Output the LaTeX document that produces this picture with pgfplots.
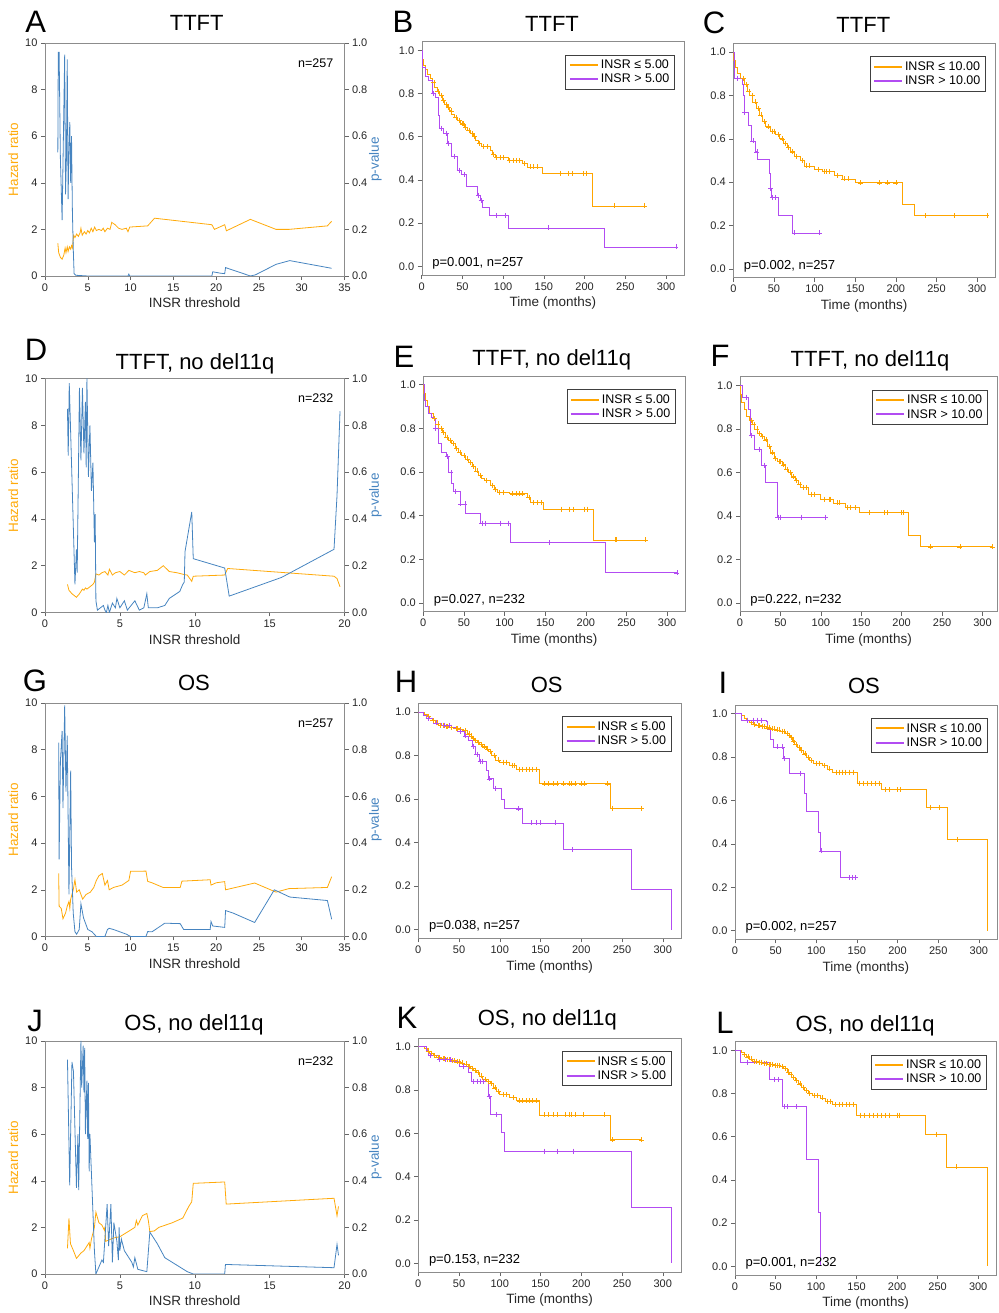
\documentclass[border=0pt]{standalone}
\usepackage{fontspec}
\setmainfont{Liberation Sans}
\usepackage{pgfplots}
\pgfplotsset{compat=1.18}
\definecolor{hrorange}{RGB}{255,170,10}
\definecolor{pblue}{RGB}{70,132,192}
\definecolor{kmorange}{RGB}{255,165,0}
\definecolor{kmpurple}{RGB}{165,45,240}

\pgfplotsset{
  every axis/.append style={
    scale only axis, anchor=south west,
    axis line style={black!45},
    tick style={black!60, line width=0.5pt},
    tick align=outside, major tick length=4pt,
    tick label style={font=\fontsize{11}{13}\selectfont, text=black!85},
    label style={font=\fontsize{13.5}{16}\selectfont, text=black!85},
    /pgf/number format/assume math mode=true,
  },
  hrax/.style={xmin=0, ymin=0, ymax=10, ytick={0,2,4,6,8,10},
    xtick pos=bottom, ytick pos=left, xlabel={INSR threshold},
    ylabel={Hazard ratio}, ylabel style={text=hrorange}},
  pvax/.style={xmin=0, ymin=0, ymax=1, hide x axis,
    ytick={0,0.2,0.4,0.6,0.8,1}, ytick pos=right, yticklabel pos=right,
    ylabel near ticks, ylabel={p-value}, ylabel shift=-5pt,
    ylabel style={text=pblue, font=\fontsize{13.5}{16}\selectfont},
    yticklabel style={/pgf/number format/.cd,fixed,fixed zerofill,precision=1}},
  kmax/.style={xmin=0, xmax=322, ymin=-0.04, ymax=1.04,
    xtick={0,50,100,150,200,250,300}, ytick={0,0.2,0.4,0.6,0.8,1},
    xtick pos=bottom, ytick pos=left, xlabel={Time (months)},
    yticklabel style={/pgf/number format/.cd,fixed,fixed zerofill,precision=1},
    legend cell align=left,
    legend style={at={(rel axis cs:0.965,0.945)}, anchor=north east,
      draw=black!75, line width=0.9pt, font=\fontsize{12.5}{15}\selectfont,
      inner xsep=3pt, inner ysep=3pt, row sep=0pt},
    legend image code/.code={\draw[#1, line width=2pt, opacity=1] (0pt,0pt) -- (28pt,0pt);}},
  hr/.style={hrorange, line width=0.8pt, mark=none},
  pv/.style={pblue, line width=0.8pt, mark=none},
  kmo/.style={kmorange, line width=0.7pt, const plot, mark=none},
  kmp/.style={kmpurple!85, line width=0.7pt, const plot, mark=none},
  cmo/.style={kmorange, only marks, mark=+, mark size=2.5pt, mark options={line width=0.5pt}, forget plot},
  cmp/.style={kmpurple!85, only marks, mark=+, mark size=2.5pt, mark options={line width=0.5pt}, forget plot},
}
\newcommand{\nlab}[1]{\node[anchor=north east, inner sep=0, font=\fontsize{12.5}{14}\selectfont] at (rel axis cs:0.963,0.935) {#1};}
\newcommand{\plab}[1]{\node[anchor=west, inner sep=0, font=\fontsize{13}{15}\selectfont] at (rel axis cs:0.04,0.05) {#1};}

\begin{document}
\begin{tikzpicture}
\useasboundingbox (0pt,0pt) rectangle (998pt,1313pt);

% ---------------- A ----------------
\begin{axis}[hrax, at={(45pt,1037pt)}, width=299.5pt, height=233pt, xmax=35, xtick={0,5,...,35}]
\addplot[hr] coordinates {(1.5,1.4)(1.6,1.0)(1.8,0.8)(2.0,0.72)(2.2,0.9)(2.35,1.2)(2.45,1.0)(2.6,1.25)(2.7,1.05)(2.85,1.25)(3.0,1.15)(3.1,1.3)(3.2,1.2)(3.35,1.75)(3.5,1.65)(3.7,1.8)(3.9,1.7)(4.1,1.85)(4.2,2.05)(4.35,1.75)(4.6,1.9)(4.8,1.8)(5.0,1.95)(5.2,1.85)(5.4,2.05)(5.6,1.9)(5.8,2.1)(6.0,1.95)(6.3,2.0)(6.6,1.95)(6.8,2.05)(7.0,1.9)(7.3,2.05)(7.6,2.0)(7.8,2.3)(8.2,2.2)(8.6,2.05)(9.0,2.0)(9.5,2.05)(9.7,1.9)(9.9,2.1)(12.0,2.15)(12.8,2.48)(19.5,2.2)(19.8,2.0)(21.0,2.2)(21.2,1.94)(24.0,2.43)(27.0,2.0)(28.5,2.0)(33.0,2.15)(33.5,2.35)};
\nlab{n=257}
\end{axis}
\begin{axis}[pvax, at={(45pt,1037pt)}, width=299.5pt, height=233pt, xmax=35]
\addplot[pv] coordinates {(1.5,0.53)(1.55,0.96)(1.65,0.96)(1.8,0.5)(2.0,0.24)(2.3,0.95)(2.4,0.35)(2.5,0.5)(2.6,0.93)(2.7,0.33)(2.8,0.55)(2.9,0.66)(3.0,0.4)(3.1,0.6)(3.2,0.28)(3.3,0.12)(3.4,0.01)(3.6,0.003)(5,0.0)(9.7,0.0)(9.8,0.008)(9.9,0.0)(19.5,0.0)(19.6,0.018)(20.5,0.012)(21.0,0.01)(21.1,0.036)(24.0,0.0)(24.6,0.005)(27.0,0.05)(28.6,0.066)(33.5,0.033)};
\end{axis}

% ---------------- D ----------------
\begin{axis}[hrax, at={(45pt,700.5pt)}, width=299.5pt, height=234pt, xmax=20, xtick={0,5,...,20}]
\addplot[hr] coordinates {(1.5,1.2)(1.6,0.95)(1.8,0.8)(2.1,0.65)(2.3,0.8)(2.5,1.0)(2.6,0.95)(2.7,1.05)(2.8,1.0)(3.0,1.1)(3.2,1.2)(3.3,1.3)(3.4,1.65)(3.6,1.6)(3.8,1.7)(4.0,1.75)(4.2,1.6)(4.3,1.85)(4.5,1.6)(4.7,1.7)(5.0,1.75)(5.3,1.6)(5.6,1.8)(6.0,1.7)(6.3,1.75)(6.6,1.7)(6.7,1.6)(7.0,1.75)(7.5,1.8)(7.9,2.0)(8.3,1.75)(8.8,1.7)(9.3,1.62)(9.5,1.6)(9.8,1.33)(9.9,1.55)(12.0,1.6)(12.2,1.88)(19.3,1.55)(19.5,1.45)(19.7,1.1)};
\nlab{n=232}
\end{axis}
\begin{axis}[pvax, at={(45pt,700.5pt)}, width=299.5pt, height=234pt, xmax=20]
\addplot[pv] coordinates {(1.5,0.87)(1.55,0.67)(1.62,0.98)(2.0,0.12)(2.1,0.27)(2.15,0.17)(2.3,0.96)(2.4,0.65)(2.5,0.96)(2.6,0.68)(2.7,0.9)(2.75,0.62)(2.8,1.0)(2.9,0.58)(3.0,0.8)(3.1,0.52)(3.2,0.64)(3.3,0.3)(3.35,0.42)(3.4,0.05)(3.5,0.01)(3.7,0.02)(3.9,0.03)(4.0,0.01)(4.1,0.0)(4.2,0.03)(4.3,0.0)(4.5,0.04)(4.7,0.02)(4.8,0.06)(5.0,0.02)(5.3,0.05)(5.5,0.01)(6.0,0.05)(6.3,0.01)(6.6,0.02)(6.8,0.08)(6.9,0.02)(7.5,0.02)(8.0,0.03)(8.3,0.06)(9.0,0.09)(9.2,0.12)(9.3,0.13)(9.35,0.26)(9.8,0.43)(9.9,0.23)(12.0,0.19)(12.3,0.07)(15.8,0.15)(19.3,0.27)(19.5,0.5)(19.7,0.86)};
\end{axis}

% ---------------- G ----------------
\begin{axis}[hrax, at={(45pt,376.5pt)}, width=299.5pt, height=233.5pt, xmax=35, xtick={0,5,...,35}]
\addplot[hr] coordinates {(1.6,2.7)(1.65,1.3)(1.9,1.2)(2.1,0.76)(2.4,1.0)(2.6,1.3)(2.8,1.5)(2.9,1.2)(3.0,1.6)(3.3,2.0)(3.5,2.43)(3.7,1.9)(4.0,2.0)(4.4,1.6)(4.8,1.8)(5.3,1.9)(5.7,2.1)(6.0,2.4)(6.3,2.6)(6.7,2.7)(7.0,2.2)(7.3,2.4)(7.5,2.0)(8.0,2.1)(9.0,2.2)(9.8,2.4)(10.0,2.79)(11.8,2.8)(12.0,2.36)(12.5,2.3)(13.8,2.1)(15.8,2.1)(16.0,2.37)(19.3,2.43)(19.4,2.2)(20.0,2.3)(21.0,2.35)(21.1,2.0)(24.5,2.29)(27.0,1.9)(28.5,2.05)(33.0,2.1)(33.5,2.56)};
\nlab{n=257}
\end{axis}
\begin{axis}[pvax, at={(45pt,376.5pt)}, width=299.5pt, height=233.5pt, xmax=35]
\addplot[pv] coordinates {(1.6,0.83)(1.65,0.33)(1.8,0.75)(2.0,0.88)(2.1,0.55)(2.3,0.99)(2.45,0.62)(2.6,0.86)(2.8,0.18)(3.0,0.71)(3.1,0.3)(3.3,0.1)(3.5,0.02)(3.7,0.01)(4.0,0.03)(4.2,0.14)(4.5,0.08)(4.7,0.06)(5.0,0.03)(5.5,0.02)(6.0,0.0)(7.0,0.0)(7.3,0.03)(7.5,0.035)(8.0,0.03)(9.5,0.01)(10.0,0.0)(11.8,0.0)(12.0,0.021)(12.5,0.02)(14.0,0.057)(15.8,0.055)(16.2,0.03)(19.3,0.03)(19.4,0.064)(19.6,0.045)(21.0,0.039)(21.1,0.111)(22.0,0.1)(24.5,0.06)(26.8,0.2)(28.6,0.169)(33.0,0.154)(33.5,0.074)};
\end{axis}

% ---------------- J ----------------
\begin{axis}[hrax, at={(45pt,39pt)}, width=299.5pt, height=233pt, xmax=20, xtick={0,5,...,20}]
\addplot[hr] coordinates {(1.5,1.1)(1.6,2.39)(1.7,1.3)(1.9,1.0)(2.1,0.67)(2.4,0.9)(2.6,1.0)(2.8,1.2)(2.95,1.35)(3.0,1.1)(3.1,1.5)(3.3,2.0)(3.4,2.65)(3.6,2.2)(3.8,2.1)(3.95,1.9)(4.0,2.0)(4.05,1.4)(4.4,1.5)(4.6,1.55)(5.0,1.6)(5.5,1.8)(6.0,2.0)(6.1,2.3)(6.2,2.1)(6.5,2.5)(6.8,2.6)(6.9,2.3)(7.0,1.82)(7.3,1.85)(7.6,2.0)(8.5,2.2)(9.2,2.4)(9.6,2.9)(9.8,3.1)(9.9,3.89)(12.0,3.95)(12.1,3.0)(19.3,3.25)(19.5,2.5)(19.6,2.9)};
\nlab{n=232}
\end{axis}
\begin{axis}[pvax, at={(45pt,39pt)}, width=299.5pt, height=233pt, xmax=20]
\addplot[pv] coordinates {(1.5,0.92)(1.65,0.38)(1.8,0.91)(1.9,0.87)(2.1,0.37)(2.2,0.6)(2.25,0.36)(2.4,1.0)(2.45,0.8)(2.55,0.98)(2.6,0.78)(2.65,0.97)(2.7,0.6)(2.8,0.83)(2.85,0.58)(2.9,0.82)(2.95,0.44)(3.0,0.6)(3.3,0.1)(3.4,0.0)(3.6,0.03)(3.8,0.06)(3.9,0.05)(4.15,0.3)(4.25,0.12)(4.4,0.3)(4.5,0.05)(4.6,0.22)(4.8,0.14)(4.9,0.06)(4.95,0.2)(5.0,0.1)(5.1,0.15)(5.3,0.1)(5.8,0.05)(5.9,0.03)(6.0,0.07)(6.2,0.02)(6.8,0.01)(7.0,0.18)(7.5,0.13)(8.0,0.07)(8.5,0.05)(9.0,0.03)(9.5,0.01)(9.9,0.0)(12.0,0.0)(12.05,0.041)(19.3,0.027)(19.5,0.127)(19.6,0.08)};
\end{axis}

% ---------------- B ----------------
\begin{axis}[kmax, at={(421.7pt,1038pt)}, width=262.3pt, height=233.3pt]
\addplot[kmo] coordinates {(0,1.0)(0.5,0.96)(2,0.93)(4,0.91)(7,0.89)(10,0.87)(13,0.85)(16,0.83)(19,0.81)(22,0.79)(25,0.77)(28,0.75)(31,0.735)(34,0.72)(37,0.705)(40,0.69)(44,0.675)(48,0.66)(52,0.645)(56,0.63)(60,0.615)(63,0.6)(66,0.585)(69,0.57)(73,0.555)(84,0.535)(87,0.52)(90,0.505)(106,0.49)(124,0.475)(130,0.46)(148,0.43)(209,0.28)(273,0.28)};
\addlegendentry{INSR ≤ 5.00}
\addplot[kmp] coordinates {(0,1.0)(1,0.92)(4,0.88)(8,0.86)(13,0.8)(17,0.78)(20,0.7)(22,0.64)(27,0.615)(32,0.57)(37,0.51)(44,0.445)(49,0.425)(55,0.37)(68,0.33)(72,0.305)(75,0.275)(83,0.235)(106,0.178)(224,0.09)(312,0.09)};
\addlegendentry{INSR > 5.00}
\addplot[cmo] coordinates {(15,0.85)(20,0.81)(24,0.79)(27,0.77)(30,0.75)(33,0.735)(36,0.72)(42,0.69)(46,0.675)(50,0.66)(51,0.66)(54,0.645)(58,0.63)(62,0.615)(65,0.6)(71,0.57)(76,0.555)(80,0.555)(88,0.52)(92,0.505)(96,0.505)(100,0.505)(108,0.49)(112,0.49)(116,0.49)(120,0.49)(126,0.475)(133,0.46)(137,0.46)(142,0.46)(170,0.43)(180,0.43)(185,0.43)(198,0.43)(202,0.43)(236,0.28)(273,0.28)};
\addplot[cmp] coordinates {(14,0.8)(24,0.64)(30,0.615)(33,0.57)(40,0.51)(46,0.445)(52,0.425)(70,0.33)(73,0.305)(92,0.235)(102,0.235)(155,0.178)(312,0.09)};
\plab{p=0.001, n=257}
\end{axis}

% ---------------- C ----------------
\begin{axis}[kmax, at={(733.3pt,1035.3pt)}, width=261.7pt, height=234.4pt]
\addplot[kmo] coordinates {(0,1.0)(0.5,0.96)(2,0.93)(5,0.9)(9,0.88)(13,0.85)(17,0.82)(20,0.8)(24,0.77)(28,0.74)(32,0.71)(36,0.68)(40,0.655)(45,0.635)(52,0.62)(57,0.6)(62,0.58)(66,0.56)(70,0.54)(75,0.52)(83,0.5)(88,0.475)(100,0.46)(110,0.45)(124,0.43)(134,0.415)(150,0.397)(208,0.297)(223,0.246)(312,0.246)};
\addlegendentry{INSR ≤ 10.00}
\addplot[kmp] coordinates {(0,1.0)(1,0.88)(11,0.85)(12,0.8)(13,0.72)(19,0.66)(22,0.59)(27,0.54)(30,0.505)(44,0.443)(46,0.372)(47,0.33)(55,0.246)(73,0.166)(106,0.166)};
\addlegendentry{INSR > 10.00}
\addplot[cmo] coordinates {(12,0.88)(16,0.85)(19,0.82)(23,0.8)(27,0.77)(31,0.74)(34,0.71)(38,0.68)(43,0.655)(48,0.635)(50,0.635)(55,0.62)(60,0.6)(64,0.58)(68,0.56)(73,0.54)(78,0.52)(85,0.5)(90,0.475)(93,0.475)(104,0.46)(112,0.45)(114,0.45)(118,0.45)(128,0.43)(136,0.415)(142,0.415)(156,0.397)(180,0.397)(190,0.397)(200,0.397)(236,0.246)(272,0.246)(312,0.246)};
\addplot[cmp] coordinates {(5,0.88)(14,0.72)(24,0.59)(29,0.54)(46,0.372)(48,0.33)(52,0.33)(75,0.166)(106,0.166)};
\plab{p=0.002, n=257}
\end{axis}

% ---------------- E ----------------
\begin{axis}[kmax, at={(423.3pt,701.3pt)}, width=261.7pt, height=235.7pt]
\addplot[kmo] coordinates {(0,1.0)(0.5,0.96)(2,0.93)(5,0.9)(8,0.87)(12,0.845)(15,0.82)(19,0.8)(23,0.78)(27,0.76)(31,0.745)(35,0.73)(39,0.71)(43,0.69)(47,0.675)(52,0.66)(56,0.645)(60,0.625)(64,0.605)(68,0.585)(72,0.57)(75,0.56)(83,0.54)(87,0.52)(91,0.505)(106,0.5)(128,0.485)(132,0.46)(148,0.43)(209,0.289)(273,0.289)};
\addlegendentry{INSR ≤ 5.00}
\addplot[kmp] coordinates {(0,1.0)(1,0.93)(3,0.9)(6,0.87)(10,0.85)(13,0.84)(15,0.8)(18,0.73)(22,0.69)(28,0.67)(31,0.597)(34,0.546)(37,0.512)(45,0.454)(52,0.41)(70,0.366)(107,0.277)(224,0.138)(312,0.138)};
\addlegendentry{INSR > 5.00}
\addplot[cmo] coordinates {(14,0.845)(18,0.82)(22,0.8)(25,0.78)(29,0.76)(33,0.745)(37,0.73)(41,0.71)(45,0.69)(50,0.675)(54,0.66)(58,0.645)(62,0.625)(66,0.605)(70,0.585)(78,0.56)(85,0.54)(89,0.52)(94,0.505)(98,0.505)(110,0.5)(114,0.5)(118,0.5)(122,0.5)(130,0.485)(135,0.46)(140,0.46)(145,0.46)(170,0.43)(180,0.43)(184,0.43)(198,0.43)(202,0.43)(236,0.289)(238,0.289)(273,0.289)};
\addplot[cmp] coordinates {(15,0.8)(30,0.67)(34,0.597)(39,0.512)(46,0.454)(51,0.454)(72,0.366)(76,0.366)(95,0.366)(105,0.366)(155,0.277)(312,0.138)};
\plab{p=0.027, n=232}
\end{axis}

% ---------------- F ----------------
\begin{axis}[kmax, at={(740pt,701.3pt)}, width=257pt, height=235pt, xmax=318]
\addplot[kmo] coordinates {(0,1.0)(0.5,0.96)(2,0.92)(5,0.89)(8,0.86)(11,0.84)(15,0.82)(18,0.8)(22,0.78)(26,0.765)(30,0.75)(34,0.72)(38,0.69)(42,0.665)(46,0.65)(52,0.635)(56,0.615)(60,0.6)(64,0.58)(68,0.565)(72,0.545)(75,0.53)(85,0.5)(100,0.477)(115,0.46)(130,0.438)(148,0.415)(208,0.312)(223,0.258)(312,0.258)};
\addlegendentry{INSR ≤ 10.00}
\addplot[kmp] coordinates {(0,1.0)(3,0.946)(10,0.89)(13,0.77)(18,0.707)(26,0.634)(31,0.554)(46,0.395)(106,0.395)};
\addlegendentry{INSR > 10.00}
\addplot[cmo] coordinates {(14,0.84)(17,0.82)(21,0.8)(24,0.78)(28,0.765)(32,0.75)(36,0.72)(40,0.69)(44,0.665)(49,0.65)(50,0.65)(54,0.635)(58,0.615)(62,0.6)(66,0.58)(70,0.565)(74,0.545)(78,0.53)(82,0.53)(88,0.5)(92,0.5)(104,0.477)(110,0.477)(112,0.477)(120,0.46)(123,0.46)(133,0.438)(136,0.438)(142,0.438)(160,0.415)(178,0.415)(182,0.415)(200,0.415)(202,0.415)(236,0.258)(272,0.258)(312,0.258)};
\addplot[cmp] coordinates {(8,0.946)(14,0.77)(24,0.707)(30,0.634)(47,0.395)(50,0.395)(76,0.395)(106,0.395)};
\plab{p=0.222, n=232}
\end{axis}

% ---------------- H ----------------
\begin{axis}[kmax, at={(418.3pt,374.7pt)}, width=262.4pt, height=235pt]
\addplot[kmo] coordinates {(0,1.0)(8,0.99)(11,0.98)(14,0.97)(17,0.96)(21,0.95)(25,0.94)(32,0.935)(38,0.93)(44,0.925)(50,0.92)(55,0.915)(60,0.9)(63,0.89)(66,0.88)(69,0.87)(72,0.86)(75,0.85)(79,0.84)(83,0.83)(86,0.82)(90,0.8)(95,0.78)(100,0.77)(112,0.755)(120,0.737)(149,0.67)(236,0.558)(274,0.558)};
\addlegendentry{INSR ≤ 5.00}
\addplot[kmp] coordinates {(0,1.0)(6,0.985)(10,0.972)(18,0.95)(28,0.94)(40,0.93)(48,0.91)(57,0.89)(62,0.87)(66,0.842)(70,0.806)(75,0.773)(83,0.734)(86,0.693)(92,0.65)(102,0.6)(105,0.555)(128,0.49)(178,0.369)(261,0.184)(311,0.0)};
\addlegendentry{INSR > 5.00}
\addplot[cmo] coordinates {(12,0.98)(18,0.96)(23,0.95)(27,0.94)(30,0.94)(34,0.935)(36,0.935)(40,0.93)(46,0.925)(48,0.925)(52,0.92)(57,0.915)(62,0.9)(65,0.89)(68,0.88)(70,0.87)(74,0.86)(77,0.85)(81,0.84)(85,0.83)(88,0.82)(93,0.8)(98,0.78)(104,0.77)(108,0.77)(115,0.755)(118,0.755)(124,0.737)(128,0.737)(132,0.737)(136,0.737)(140,0.737)(145,0.737)(155,0.67)(160,0.67)(165,0.67)(170,0.67)(178,0.67)(185,0.67)(188,0.67)(192,0.67)(200,0.67)(204,0.67)(232,0.67)(238,0.558)(274,0.558)};
\addplot[cmp] coordinates {(12,0.972)(22,0.95)(32,0.94)(38,0.94)(52,0.91)(58,0.89)(68,0.842)(72,0.806)(76,0.773)(79,0.773)(87,0.693)(95,0.65)(123,0.555)(138,0.49)(145,0.49)(150,0.49)(168,0.49)(189,0.369)};
\plab{p=0.038, n=257}
\end{axis}

% ---------------- I ----------------
\begin{axis}[kmax, at={(735pt,373.7pt)}, width=261.7pt, height=234.3pt]
\addplot[kmo] coordinates {(0,1.0)(8,0.99)(11,0.98)(14,0.97)(18,0.96)(22,0.95)(26,0.945)(32,0.94)(38,0.935)(44,0.93)(50,0.925)(56,0.92)(62,0.91)(65,0.9)(68,0.89)(70,0.875)(73,0.86)(77,0.845)(80,0.83)(84,0.815)(88,0.8)(92,0.785)(96,0.77)(108,0.76)(114,0.745)(120,0.73)(150,0.68)(180,0.65)(235,0.567)(261,0.42)(311,0.0)};
\addlegendentry{INSR ≤ 10.00}
\addplot[kmp] coordinates {(0,1.0)(8,0.97)(38,0.965)(40,0.93)(43,0.88)(47,0.847)(59,0.793)(67,0.724)(85,0.635)(88,0.548)(103,0.455)(105,0.367)(129,0.244)(148,0.244)};
\addlegendentry{INSR > 10.00}
\addplot[cmo] coordinates {(15,0.97)(20,0.96)(24,0.95)(28,0.945)(30,0.945)(34,0.94)(36,0.94)(40,0.935)(42,0.935)(46,0.93)(48,0.93)(52,0.925)(54,0.925)(58,0.92)(60,0.92)(64,0.91)(67,0.9)(69,0.89)(72,0.875)(75,0.86)(79,0.845)(82,0.83)(86,0.815)(90,0.8)(94,0.785)(100,0.77)(104,0.77)(110,0.76)(116,0.745)(124,0.73)(128,0.73)(132,0.73)(136,0.73)(140,0.73)(145,0.73)(153,0.68)(158,0.68)(163,0.68)(168,0.68)(172,0.68)(177,0.68)(185,0.65)(190,0.65)(200,0.65)(203,0.65)(240,0.567)(251,0.567)(273,0.42)};
\addplot[cmp] coordinates {(15,0.97)(22,0.97)(27,0.97)(32,0.97)(52,0.847)(58,0.847)(61,0.793)(80,0.724)(106,0.367)(140,0.244)(144,0.244)(148,0.244)};
\plab{p=0.002, n=257}
\end{axis}

% ---------------- K ----------------
\begin{axis}[kmax, at={(418.3pt,41pt)}, width=262.4pt, height=234pt]
\addplot[kmo] coordinates {(0,1.0)(8,0.99)(11,0.98)(14,0.97)(18,0.96)(22,0.95)(28,0.945)(34,0.94)(40,0.935)(46,0.93)(52,0.925)(57,0.92)(61,0.91)(64,0.9)(68,0.89)(71,0.88)(75,0.865)(79,0.85)(84,0.84)(88,0.83)(92,0.81)(96,0.795)(100,0.78)(112,0.765)(120,0.75)(149,0.685)(236,0.57)(274,0.57)};
\addlegendentry{INSR ≤ 5.00}
\addplot[kmp] coordinates {(0,1.0)(10,0.985)(12,0.96)(25,0.94)(40,0.93)(50,0.91)(62,0.88)(65,0.84)(86,0.77)(88,0.688)(102,0.603)(105,0.518)(261,0.26)(311,0.0)};
\addlegendentry{INSR > 5.00}
\addplot[cmo] coordinates {(12,0.98)(16,0.97)(20,0.96)(24,0.95)(26,0.95)(30,0.945)(32,0.945)(36,0.94)(38,0.94)(42,0.935)(44,0.935)(48,0.93)(50,0.93)(54,0.925)(59,0.92)(63,0.91)(66,0.9)(70,0.89)(73,0.88)(77,0.865)(82,0.85)(86,0.84)(90,0.83)(94,0.81)(98,0.795)(104,0.78)(108,0.78)(116,0.765)(124,0.75)(128,0.75)(132,0.75)(136,0.75)(140,0.75)(145,0.75)(155,0.685)(160,0.685)(165,0.685)(170,0.685)(180,0.685)(185,0.685)(188,0.685)(192,0.685)(202,0.685)(228,0.685)(238,0.57)(274,0.57)};
\addplot[cmp] coordinates {(15,0.96)(26,0.94)(33,0.94)(39,0.94)(55,0.91)(68,0.84)(72,0.84)(76,0.84)(80,0.84)(87,0.77)(96,0.688)(155,0.518)(170,0.518)(190,0.518)};
\plab{p=0.153, n=232}
\end{axis}

% ---------------- L ----------------
\begin{axis}[kmax, at={(735pt,38pt)}, width=261pt, height=233.3pt]
\addplot[kmo] coordinates {(0,1.0)(8,0.99)(11,0.98)(14,0.97)(18,0.96)(22,0.95)(28,0.945)(34,0.94)(40,0.935)(48,0.93)(56,0.925)(60,0.915)(64,0.9)(67,0.89)(70,0.875)(74,0.86)(78,0.845)(82,0.83)(86,0.815)(90,0.8)(95,0.79)(105,0.78)(112,0.765)(120,0.75)(150,0.7)(235,0.612)(261,0.46)(311,0.0)};
\addlegendentry{INSR ≤ 10.00}
\addplot[kmp] coordinates {(0,1.0)(7,0.946)(42,0.865)(58,0.74)(88,0.495)(103,0.25)(105,0.0)};
\addlegendentry{INSR > 10.00}
\addplot[cmo] coordinates {(12,0.98)(16,0.97)(20,0.96)(24,0.95)(26,0.95)(30,0.945)(32,0.945)(36,0.94)(38,0.94)(42,0.935)(44,0.935)(46,0.935)(50,0.93)(52,0.93)(54,0.93)(58,0.925)(62,0.915)(66,0.9)(69,0.89)(72,0.875)(76,0.86)(80,0.845)(84,0.83)(88,0.815)(92,0.8)(98,0.79)(102,0.79)(108,0.78)(114,0.765)(117,0.765)(124,0.75)(128,0.75)(132,0.75)(137,0.75)(141,0.75)(146,0.75)(155,0.7)(160,0.7)(165,0.7)(170,0.7)(175,0.7)(180,0.7)(185,0.7)(190,0.7)(200,0.7)(203,0.7)(248,0.612)(273,0.46)};
\addplot[cmp] coordinates {(15,0.946)(48,0.865)(53,0.865)(61,0.74)(64,0.74)(75,0.74)};
\plab{p=0.001, n=232}
\end{axis}

% ---------------- titles and panel letters ----------------
\begin{scope}[every node/.style={font=\fontsize{22}{26}\selectfont, anchor=base, inner sep=0}]
\node at (196.7pt,1282pt) {TTFT};
\node at (552pt,1281pt) {TTFT};
\node at (863.3pt,1280pt) {TTFT};
\node at (195pt,943pt) {TTFT, no del11q};
\node at (551.7pt,947.5pt) {TTFT, no del11q};
\node at (870pt,946pt) {TTFT, no del11q};
\node at (194pt,622pt) {OS};
\node at (546.7pt,620pt) {OS};
\node at (864pt,619pt) {OS};
\node at (194pt,282pt) {OS, no del11q};
\node at (547.3pt,287pt) {OS, no del11q};
\node at (865pt,281pt) {OS, no del11q};
\end{scope}
\begin{scope}[every node/.style={font=\fontsize{31}{36}\selectfont, anchor=center, inner sep=0}]
\node at (35.8pt,1291pt) {A};
\node at (403pt,1291pt) {B};
\node at (714pt,1290pt) {C};
\node at (36pt,963pt) {D};
\node at (404pt,956pt) {E};
\node at (720pt,957pt) {F};
\node at (35pt,632pt) {G};
\node at (406pt,631pt) {H};
\node at (723pt,630pt) {I};
\node at (35pt,292pt) {J};
\node at (407pt,295pt) {K};
\node at (725pt,290pt) {L};
\end{scope}
\end{tikzpicture}
\end{document}
